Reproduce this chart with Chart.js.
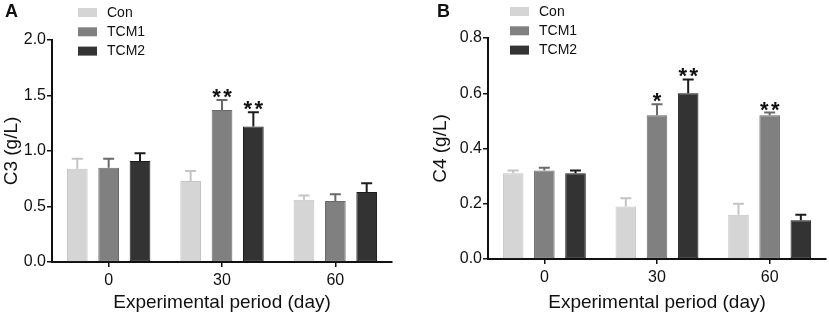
<!DOCTYPE html>
<html>
<head>
<meta charset="utf-8">
<script src="https://cdn.jsdelivr.net/npm/chart.js@4.4.1/dist/chart.umd.min.js"></script>
<style>
  body { margin: 0; background: #fff; }
  .wrap { position: relative; width: 829px; height: 315px; overflow: hidden; }
  .panel { position: absolute; top: 0; }
</style>
</head>
<body>
<div class="wrap">
  <div class="panel" style="left:0"><canvas id="c3" width="410" height="315"></canvas></div>
  <div class="panel" style="left:410px"><canvas id="c4" width="419" height="315"></canvas></div>
</div>
<script>
// data
const days = ['0', '30', '60'];
const groups = ['Con', 'TCM1', 'TCM2'];

const c3Con = [0.84, 0.73, 0.56];
const c3ConSd = [0.09, 0.09, 0.04];
const c3Tcm1 = [0.85, 1.37, 0.55];
const c3Tcm1Sd = [0.08, 0.09, 0.06];
const c3Tcm2 = [0.91, 1.22, 0.63];
const c3Tcm2Sd = [0.07, 0.13, 0.08];
const c3Marks = [['', '', ''], ['', '**', ''], ['', '**', '']];

const c4Con = [0.31, 0.19, 0.16];
const c4ConSd = [0.01, 0.03, 0.04];
const c4Tcm1 = [0.32, 0.52, 0.52];
const c4Tcm1Sd = [0.01, 0.04, 0.01];
const c4Tcm2 = [0.31, 0.60, 0.14];
const c4Tcm2Sd = [0.01, 0.05, 0.02];
const c4Marks = [['', '', ''], ['', '*', '**'], ['', '**', '']];

const fills = ['#d5d5d5', '#808080', '#333333'];
const edges = ['#c4c4c4', '#6a6a6a', '#1c1c1c'];
const FONT = 'Liberation Sans, Arial, sans-serif';

// error bars, asterisks, legend and panel letter
const extras = {
  id: 'extras',
  afterDatasetsDraw(chart, args, o) {
    const ctx = chart.ctx;
    const y = chart.scales.y;
    ctx.save();
    chart.data.datasets.forEach((ds, i) => {
      const meta = chart.getDatasetMeta(i);
      meta.data.forEach((bar, j) => {
        const top = y.getPixelForValue(ds.data[j] + ds.sd[j]);
        ctx.strokeStyle = edges[i];
        ctx.lineWidth = 2;
        ctx.beginPath();
        ctx.moveTo(bar.x, bar.y);
        ctx.lineTo(bar.x, top);
        ctx.moveTo(bar.x - 5.5, top);
        ctx.lineTo(bar.x + 5.5, top);
        ctx.stroke();
        const m = o.marks[i][j];
        if (m) {
          ctx.fillStyle = '#111';
          ctx.font = 'bold 22px ' + FONT;
          ctx.textAlign = 'center';
          ctx.textBaseline = 'alphabetic';
          const n = m.length;
          for (let k = 0; k < n; k++) {
            ctx.fillText('*', bar.x + (k - (n - 1) / 2) * 11, top + 4);
          }
        }
      });
    });
    // legend
    ctx.font = '14px ' + FONT;
    ctx.textAlign = 'left';
    ctx.textBaseline = 'middle';
    chart.data.datasets.forEach((ds, i) => {
      const cy = o.legY + i * 19.3;
      ctx.fillStyle = fills[i];
      ctx.fillRect(o.legX, cy - 4.5, 19, 9);
      ctx.fillStyle = '#111';
      ctx.fillText(ds.label, o.legX + 29, cy + 0.5);
    });
    ctx.font = 'bold 18px ' + FONT;
    ctx.fillText(o.letter, o.letterX, 12.5);
    ctx.restore();
  }
};

function makeChart(id, vals, sds, title, max, step, o) {
  return new Chart(document.getElementById(id), {
    type: 'bar',
    data: {
      labels: days,
      datasets: groups.map((g, i) => ({
        label: g,
        data: vals[i],
        sd: sds[i],
        backgroundColor: fills[i],
        borderColor: edges[i],
        borderWidth: 1,
        borderSkipped: false,
        categoryPercentage: 0.83,
        barPercentage: 0.66
      }))
    },
    options: {
      responsive: false,
      animation: false,
      layout: { padding: o.pad },
      plugins: { legend: { display: false }, tooltip: { enabled: false }, extras: o },
      scales: {
        x: {
          grid: { display: true, drawOnChartArea: false, drawTicks: true, tickLength: 5, tickColor: '#111', lineWidth: 1.5, offset: false },
          border: { color: '#111', width: 2 },
          ticks: { color: '#111', font: { family: FONT, size: 16 }, padding: 4 },
          title: { display: true, text: 'Experimental period (day)', color: '#111', font: { family: FONT, size: 19 }, padding: { top: 0, bottom: 1 } },
          afterFit: s => { s.height = o.xh; }
        },
        y: {
          min: 0, max: max,
          grid: { display: true, drawOnChartArea: false, drawTicks: true, tickLength: 5, tickColor: '#111', lineWidth: 1.5 },
          border: { color: '#111', width: 2 },
          ticks: { stepSize: step, color: '#111', font: { family: FONT, size: 16 }, padding: 1, callback: v => v.toFixed(1) },
          title: { display: true, text: title, color: '#111', font: { family: FONT, size: 19 }, padding: { top: 0, bottom: 0 } },
          afterFit: s => { s.width = o.yw; }
        }
      }
    },
    plugins: [extras]
  });
}

makeChart('c3', [c3Con, c3Tcm1, c3Tcm2], [c3ConSd, c3Tcm1Sd, c3Tcm2Sd], 'C3 (g/L)', 2.0, 0.5,
  { pad: { left: 0, right: 18, top: 40, bottom: 0 }, yw: 52, xh: 53, marks: c3Marks, legX: 78, legY: 12.5, letter: 'A', letterX: 5 });
makeChart('c4', [c4Con, c4Tcm1, c4Tcm2], [c4ConSd, c4Tcm1Sd, c4Tcm2Sd], 'C4 (g/L)', 0.8, 0.2,
  { pad: { left: 19, right: 3, top: 38, bottom: 0 }, yw: 59, xh: 56, marks: c4Marks, legX: 100, legY: 11.5, letter: 'B', letterX: 27 });
</script>
</body>
</html>
